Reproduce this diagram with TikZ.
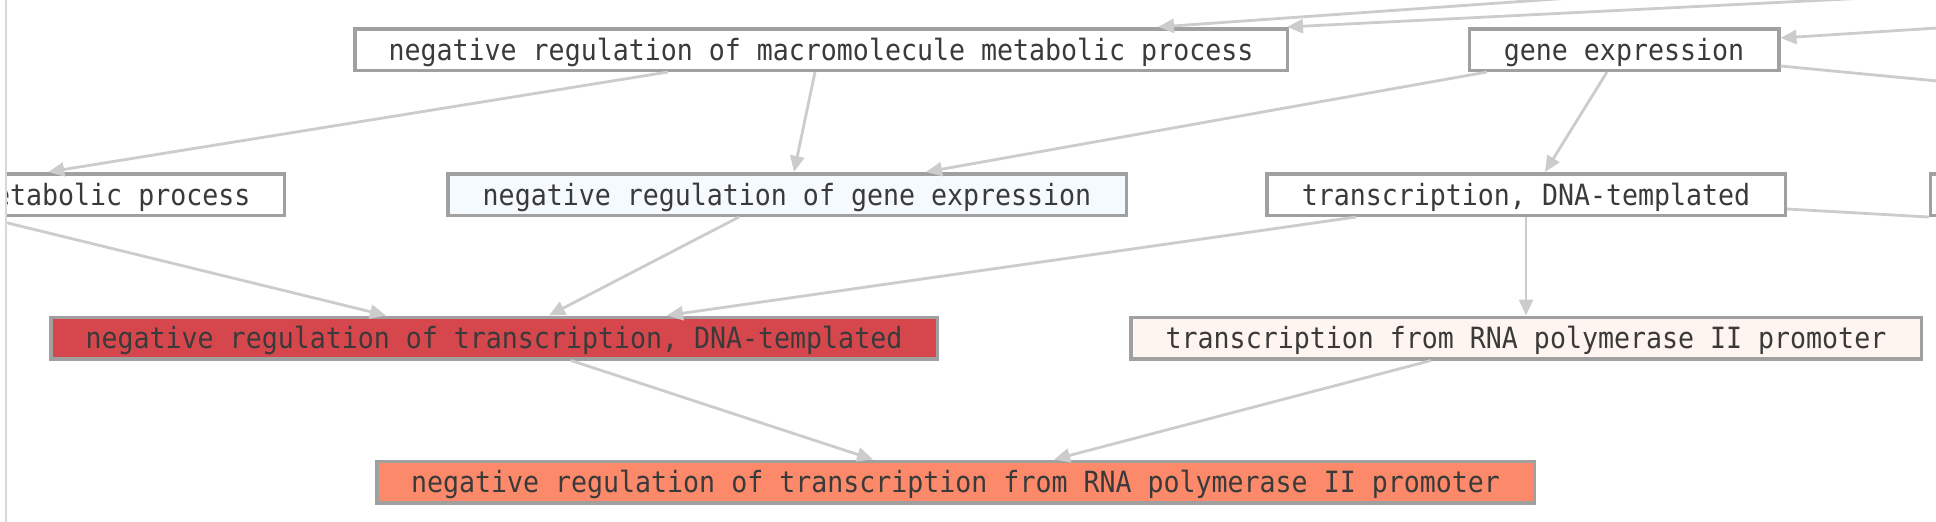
\documentclass[tikz,border=0pt]{standalone}
\usepackage{fontspec}
\usepackage{graphicx}
\setmonofont{DejaVu Sans Mono}
\usetikzlibrary{arrows.meta}
\definecolor{bordergray}{RGB}{160,160,160}
\definecolor{edgegray}{RGB}{204,204,204}
\definecolor{txt}{RGB}{58,58,58}
\definecolor{lightblue}{RGB}{245,250,254}
\definecolor{deepred}{RGB}{213,71,77}
\definecolor{palepink}{RGB}{255,245,240}
\definecolor{salmon}{RGB}{252,138,106}
\definecolor{panelline}{RGB}{216,216,216}
\newcommand{\tall}[1]{\scalebox{1}[1.1]{#1}}
\begin{document}
\begin{tikzpicture}[x=1pt,y=-1pt,
  term/.style={draw=bordergray, line width=3.5pt, fill=white, inner sep=0pt, minimum height=41.5pt, text height=24pt, text depth=3pt, text=txt, font=\ttfamily\fontsize{26.6}{30}\selectfont},
  link/.style={draw=edgegray, line width=2.8pt, -{Triangle[length=16pt,width=14pt]}},
  plain/.style={draw=edgegray, line width=2.8pt}]
\useasboundingbox[fill=white] (0,0) rectangle (1936,522);
\begin{scope}
\clip (7,0) rectangle (1936,522);
\node[term, minimum width=932.5pt] (macro) at (821,49.5) {\tall{negative regulation of macromolecule metabolic process}};
\node[term, minimum width=309.5pt] (gene) at (1624,49.5) {\tall{gene expression}};
\node[term, minimum width=340.5pt, anchor=east] (metab) at (286.25,194.5) {\tall{metabolic process}};
\node[term, fill=lightblue, minimum width=678.5pt] (neggene) at (787,194.5) {\tall{negative regulation of gene expression}};
\node[term, minimum width=518.5pt] (transDNA) at (1526,194.5) {\tall{transcription, DNA-templated}};
\node[term, minimum width=300pt, anchor=west] (rightbox) at (1928.75,194.5) {};
\node[term, fill=deepred, minimum width=886.5pt] (negtransDNA) at (494,338) {\tall{negative regulation of transcription, DNA-templated}};
\node[term, fill=palepink, minimum width=790.5pt] (transRNA) at (1526,338) {\tall{transcription from RNA polymerase II promoter}};
\node[term, fill=salmon, minimum width=1157.5pt] (negRNA) at (955.5,482) {\tall{negative regulation of transcription from RNA polymerase II promoter}};
\coordinate (inA) at (1684,-10);
\coordinate (inB) at (2027,-10);
\coordinate (inC) at (2000,24);
\coordinate (outD) at (2000,87);
\draw[link] (inA) -- ([xshift=337pt]macro.north);
\draw[link] (inB) -- ([xshift=466pt]macro.north);
\draw[link] (inC) -- ([yshift=11.5pt]gene.east);
\draw[plain] ([yshift=-16.5pt]gene.east) -- (outD);
\draw[link] ([xshift=-153pt]macro.south) -- ([xshift=-66pt]metab.north);
\draw[link] ([xshift=-6pt]macro.south) -- ([xshift=7pt]neggene.north);
\draw[link] ([xshift=-137pt]gene.south) -- ([xshift=139pt]neggene.north);
\draw[link] ([xshift=-17pt]gene.south) -- ([xshift=19pt]transDNA.north);
\draw[plain] ([yshift=-14.5pt]transDNA.east) -- (rightbox.south west);
\draw[link] ([xshift=-131pt]metab.south) -- ([xshift=-108pt]negtransDNA.north);
\draw[link] ([xshift=-48pt]neggene.south) -- ([xshift=55pt]negtransDNA.north);
\draw[link] ([xshift=-170pt]transDNA.south) -- ([xshift=173pt]negtransDNA.north);
\draw[link] (transDNA.south) -- (transRNA.north);
\draw[link] ([xshift=77pt]negtransDNA.south) -- ([xshift=-82.5pt]negRNA.north);
\draw[link] ([xshift=-95pt]transRNA.south) -- ([xshift=98.5pt]negRNA.north);
\end{scope}
\draw[draw=panelline, line width=2pt] (6,0) -- (6,522);
\end{tikzpicture}
\end{document}
